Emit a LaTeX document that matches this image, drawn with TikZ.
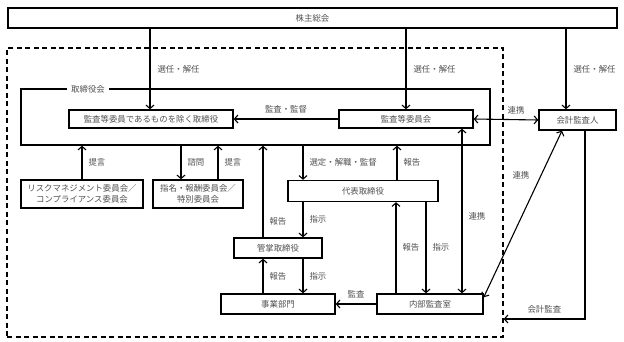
\documentclass[tikz,border=0pt]{standalone}
\usepackage{fontspec}
\newfontfamily\jpfont{Noto Sans CJK JP}
\usepackage{xcolor}
\usepackage{tikz}
\usetikzlibrary{arrows.meta,positioning}
\definecolor{cinzatexto}{RGB}{80,80,80}
\tikzset{
  bloco/.style={rectangle,draw=black,line width=1.4pt,fill=white,inner sep=1pt,
    align=center,text=cinzatexto,font=\jpfont\fontsize{8.4}{10.5}\selectfont},
  seta/.style={-{Straight Barb[length=3.5pt,width=8pt]},line width=1.1pt},
  setadupla/.style={{Straight Barb[length=3.5pt,width=8pt]}-{Straight Barb[length=3.5pt,width=8pt]},line width=1.1pt},
  rotulo/.style={text=cinzatexto,inner sep=1pt,font=\jpfont\fontsize{8.4}{10}\selectfont}
}
\begin{document}
\begin{tikzpicture}[x=1pt,y=-1pt]
\useasboundingbox (0,0) rectangle (624,342);
% regioes
\node[draw,dashed,line width=1.4pt,dash pattern=on 5pt off 3.5pt,minimum width=496pt,minimum height=289pt,inner sep=0pt] (regiao) at (255,192.5) {};
\node[draw,line width=1.4pt,minimum width=469pt,minimum height=56pt,inner sep=0pt] (conselho) at (255.5,117) {};
\node[rotulo,fill=white,inner sep=4pt] (conselhorot) at (88,89) {取締役会};
% blocos
\node[bloco,minimum width=609pt,minimum height=20pt] (kabunushi) at (312.5,18) {株主総会};
\node[bloco,minimum width=164pt,minimum height=18pt] (torishimari) at (151,119) {監査等委員であるものを除く取締役};
\node[bloco,minimum width=134pt,minimum height=18pt] (kansaiin) at (406,119) {監査等委員会};
\node[bloco,minimum width=77pt,minimum height=20pt] (kaikei) at (577.5,120) {会計監査人};
\node[bloco,minimum width=122pt,minimum height=28pt] (risk) at (82,194) {リスクマネジメント委員会／\\コンプライアンス委員会};
\node[bloco,minimum width=90pt,minimum height=28pt] (shimei) at (198,194) {指名・報酬委員会／\\特別委員会};
\node[bloco,minimum width=150pt,minimum height=21pt] (daihyo) at (363,191) {代表取締役};
\node[bloco,minimum width=88pt,minimum height=20pt] (kansho) at (278,248) {管掌取締役};
\node[bloco,minimum width=114pt,minimum height=20pt] (jigyo) at (278,304) {事業部門};
\node[bloco,minimum width=106pt,minimum height=20pt] (naibu) at (430,304) {内部監査室};
% ligacoes
\draw[seta] ([xshift=-1pt]torishimari.north |- kabunushi.south) -- ([xshift=-1pt]torishimari.north)
  node[rotulo,right=6pt,pos=0.5] {選任・解任};
\draw[seta] (kansaiin.north |- kabunushi.south) -- (kansaiin.north)
  node[rotulo,right=6pt,pos=0.5] {選任・解任};
\draw[seta] ([xshift=-11.5pt]kaikei.north |- kabunushi.south) -- ([xshift=-11.5pt]kaikei.north)
  node[rotulo,right=6pt,pos=0.5] {選任・解任};
\draw[seta] (kansaiin.west) -- (torishimari.east) node[rotulo,above=4pt,midway] {監査・監督};
\draw[setadupla] (kansaiin.east) -- (kaikei.west) node[rotulo,above=4pt,midway,xshift=10pt] {連携};
\draw[seta] (risk.north) -- (risk.north |- conselho.south) node[rotulo,right=5pt,midway] {提言};
\draw[seta] ([xshift=-17pt]shimei.north |- conselho.south) -- ([xshift=-17pt]shimei.north)
  node[rotulo,right=5pt,midway] {諮問};
\draw[seta] ([xshift=20pt]shimei.north) -- ([xshift=20pt]shimei.north |- conselho.south)
  node[rotulo,right=5pt,midway] {提言};
\draw[seta] ([xshift=-15pt]kansho.north) -- ([xshift=-15pt]kansho.north |- conselho.south)
  node[rotulo,right=5pt,pos=0.17] {報告};
\draw[seta] ([xshift=-60pt]daihyo.north |- conselho.south) -- ([xshift=-60pt]daihyo.north)
  node[rotulo,right=5pt,midway] {選定・解職・監督};
\draw[seta] ([xshift=34pt]daihyo.north) -- ([xshift=34pt]daihyo.north |- conselho.south)
  node[rotulo,right=5pt,midway] {報告};
\draw[setadupla] ([xshift=56pt]kansaiin.south) -- ([xshift=32pt]naibu.north)
  node[rotulo,right=5pt,pos=0.53] {連携};
\draw[setadupla] ([yshift=-4pt]naibu.north east) -- ([xshift=-15.5pt]kaikei.south)
  node[rotulo,left=10pt,pos=0.73] {連携};
\draw[seta] ([xshift=-60pt]daihyo.south) -- ([xshift=25pt]kansho.north)
  node[rotulo,right=5pt,midway] {指示};
\draw[seta] ([xshift=25pt]kansho.south) -- ([xshift=25pt]jigyo.north)
  node[rotulo,right=5pt,midway] {指示};
\draw[seta] ([xshift=-15pt]jigyo.north) -- ([xshift=-15pt]kansho.south)
  node[rotulo,right=5pt,midway] {報告};
\draw[seta] (naibu.west) -- (jigyo.east) node[rotulo,above=4pt,midway] {監査};
\draw[seta] ([xshift=-34pt]naibu.north) -- ([xshift=33pt]daihyo.south)
  node[rotulo,right=5pt,midway] {報告};
\draw[seta] ([xshift=63pt]daihyo.south) -- ([xshift=-4pt]naibu.north)
  node[rotulo,right=5pt,midway] {指示};
\draw[seta] ([xshift=7.5pt]kaikei.south) |- ([yshift=-126.5pt]regiao.east)
  node[rotulo,above=4pt,pos=0.75] {会計監査};
\end{tikzpicture}
\end{document}
